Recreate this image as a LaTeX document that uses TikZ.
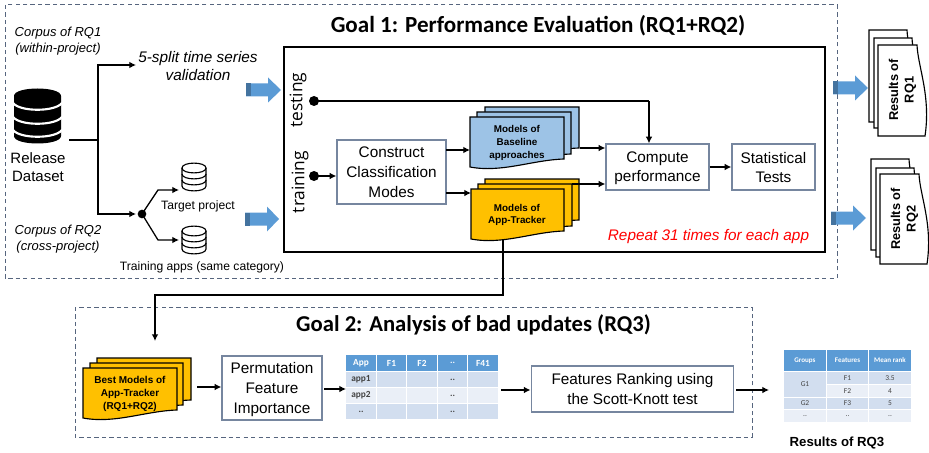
\documentclass[tikz,border=0pt]{standalone}
\usepackage{fontspec}
\setmainfont{Liberation Sans}
\newfontfamily\carl{Carlito}
\newfontfamily\opens{Open Sans}
\usetikzlibrary{arrows.meta,calc}
\definecolor{boxline}{HTML}{76869F}
\definecolor{dashline}{HTML}{56657E}
\definecolor{bigblue}{HTML}{5B9BD5}
\definecolor{bigdark}{HTML}{44739F}
\definecolor{docblue}{HTML}{9DC3E6}
\definecolor{docorange}{HTML}{FFC000}
\definecolor{thead}{HTML}{5B9BD5}
\definecolor{tdark}{HTML}{D2DEEF}
\definecolor{tlight}{HTML}{EAEFF7}
\definecolor{ttext}{HTML}{444444}
\newcommand{\fs}[1]{\fontsize{#1pt}{1.2\dimexpr#1pt\relax}\selectfont}
\newcount\cellno
\tikzset{
  x=0.75pt,y=-0.75pt,
  goalframe/.style={draw=dashline,line width=0.75pt,dash pattern=on 3.2pt off 2.4pt},
  arr/.style={line width=0.95pt,-{Latex[length=5pt,width=5pt]}},
  plain/.style={line width=0.95pt},
  procbox/.style={draw=boxline,line width=0.95pt,fill=white,align=center,inner sep=0pt,font=\fs{11.5},text depth=0pt},
  lbl/.style={inner sep=0pt,align=center},
  sheet/.style={draw=black,line width=0.85pt},
  ghost/.style={inner sep=0pt,align=center,font=\bfseries\fs{7.4}},
  blackdot/.style={circle,fill=black,inner sep=0pt,minimum size=6.5pt},
}
% horizontal document sheet
\newcommand{\hsheet}[5]{\draw[sheet,fill=#5] (#1,#2) -- (#3,#2) -- (#3,#4) .. controls ({#3-32},{#4+1}) and ({#1+32},{#4+14}) .. (#1,{#4+8}) -- cycle;}
% vertical document sheet
\newcommand{\vsheet}[4]{\draw[sheet,fill=white] (#1,#2) -- (#3,#2) .. controls ({#3+1},{#2+22}) and ({#3+14},{#4-40}) .. ({#3+8},#4) -- (#1,#4) -- cycle;}
\newcommand{\bigarrow}[4]{% x0,x1,yc,xhead
  \fill[bigblue] (#1,{#3-6.5}) -- (#4,{#3-6.5}) -- (#4,{#3-12.5}) -- (#2,#3) -- (#4,{#3+12.5}) -- (#4,{#3+6.5}) -- (#1,{#3+6.5}) -- cycle;
  \fill[bigdark] (#1,{#3-6.5}) rectangle ({#1+5},{#3+6.5});}
\newcommand{\smalldb}[1]{%
  \begin{scope}[shift={(182,#1)}]
    \draw[line width=0.85pt,fill=white] (0,5) .. controls (0,-1.5) and (24,-1.5) .. (24,5) -- (24,23) .. controls (24,29.5) and (0,29.5) .. (0,23) -- cycle;
    \draw[line width=0.85pt] (0,5) .. controls (0,11.5) and (24,11.5) .. (24,5);
    \draw[line width=0.85pt] (0,11) .. controls (0,17.5) and (24,17.5) .. (24,11);
    \draw[line width=0.85pt] (0,17) .. controls (0,23.5) and (24,23.5) .. (24,17);
  \end{scope}}
\newcommand{\cellfont}{}
\newcommand{\cell}[7]{% x0,y0,x1,y1,fill,textcolor,text
  \global\advance\cellno by 1
  \fill[#5] (#1,#2) rectangle (#3,#4);
  \node[inner sep=0pt,text=#6,font=\cellfont] (cell\the\cellno) at ({(#1+#3)/2},{(#2+#4)/2}) {#7};}
\begin{document}
\begin{tikzpicture}
\useasboundingbox (0,0) rectangle (929,453);
\fill[white] (0,0) rectangle (929,453);
% frames
\draw[goalframe] (5,5) rectangle (837,278);
\draw[goalframe] (75,307) rectangle (752,437);
\draw[line width=1.1pt] (284,47) rectangle (825,252);
\node[lbl,font=\carl\bfseries\fs{17.3}] (goalone) at (538,26) {Goal 1: Performance Evaluation (RQ1+RQ2)};
\node[lbl,font=\carl\bfseries\fs{17}] (goaltwo) at (473.5,325) {Goal 2: Analysis of bad updates (RQ3)};
% big dataset icon
\fill[black] (14,96) .. controls (14,86) and (61,86) .. (61,96) -- (61,136) .. controls (61,146) and (14,146) .. (14,136) -- cycle;
\foreach \e in {103,117,130}
  \draw[white,line width=1.6pt] (13,\e) .. controls (20,{\e+9}) and (55,{\e+9}) .. (62,\e);
\node[lbl,font=\fs{11.25},text depth=0pt] (release) at (38,167) {Release\\[0.5pt]Dataset};
\coordinate (relport) at (69,140);
\coordinate (trunk) at (98,140);
\node[lbl,font=\itshape\fs{9.75}] (corpusone) at (58,41) {Corpus of RQ1\\(within-project)};
\node[lbl,font=\itshape\fs{9.75}] (corpustwo) at (58,239) {Corpus of RQ2\\(cross-project)};
\node[lbl,font=\itshape\fs{11.5}] (split) at (198,66) {5-split time series\\validation};
\node[blackdot] (fork) at (142,214) {};
\smalldb{163}
\smalldb{226}
\coordinate (splitin) at (136,65);
\coordinate (forkin) at (136,214);
\coordinate (targetdb) at (179,190);
\coordinate (traindb) at (179,240);
\node[lbl,font=\fs{9.1}] (target) at (198,206) {Target project};
\node[lbl,font=\fs{9.1}] (trainapps) at (202,267) {Training apps (same category)};
\draw[plain] (relport) -- (trunk);
\draw[arr] (trunk) |- (splitin);
\draw[arr] (trunk) |- (forkin);
\draw[arr] (fork.center) -- (158,190) -- (targetdb);
\draw[arr] (fork.center) -- (158,240) -- (traindb);
% big arrows
\bigarrow{246}{281}{90}{268}
\bigarrow{245}{279}{219}{267}
\bigarrow{833}{868}{88}{855}
\bigarrow{831}{866}{218}{853}
% inner labels
\node[lbl,rotate=90,font=\opens\fs{13}] (testing) at (298,100) {testing};
\node[lbl,rotate=90,font=\opens\fs{13}] (training) at (300,182) {training};
\node[blackdot,minimum size=7.5pt] (testdot) at (314,101) {};
\node[blackdot,minimum size=7.5pt] (traindot) at (314,176) {};
\node[procbox,minimum width=81.75pt,minimum height=48pt] (construct) at (391.5,172) {Construct\\[1pt]Classification\\[1pt]Modes};
% baseline docs
\hsheet{485}{107}{579}{148}{docblue}
\hsheet{477}{112}{571}{154}{docblue}
\hsheet{470}{117}{564}{159}{docblue}
\node[ghost] (baseline) at (517,143) {Models of\\[0.6pt]Baseline\\[0.6pt]approaches};
% app-tracker docs
\hsheet{485}{179}{579}{220}{docorange}
\hsheet{478}{184}{572}{226}{docorange}
\hsheet{471}{189}{564}{231}{docorange}
\node[ghost] (tracker) at (517,215) {Models of\\[0.6pt]App-Tracker};
\node[procbox,minimum width=77.25pt,minimum height=34.5pt] (compute) at (657.5,167) {Compute\\[0.5pt]performance};
\node[procbox,minimum width=62.25pt,minimum height=34.5pt] (stat) at (773.5,167) {Statistical\\[0.5pt]Tests};
\node[lbl,text=red,font=\itshape\fs{11.5}] (repeat) at (708.5,237) {Repeat 31 times for each app};
\coordinate (ccone) at (446,150);
\coordinate (cctwo) at (446,193);
\coordinate (blin) at (470,150);
\coordinate (trin) at (471,193);
\coordinate (blout) at (580,148);
\coordinate (trout) at (572,184);
\coordinate (turn) at (649,101);
\draw[plain] (testdot.center) -- (turn);
\draw[arr] (turn) -- (turn |- compute.north);
\draw[arr] (traindot.center) -- (traindot.center -| construct.west);
\draw[arr] (ccone) -- (blin);
\draw[arr] (cctwo) -- (trin);
\draw[arr] (blout) -- (blout -| compute.west);
\draw[arr] (trout) -- (trout -| compute.west);
\draw[arr] (compute.east) -- (stat.west);
% results RQ1
\vsheet{869}{30}{907}{122}
\vsheet{874}{38}{912}{128}
\vsheet{878}{45}{917}{136}
\node[lbl,rotate=90,font=\bfseries\fs{9.6}] (resone) at (902.5,90) {Results of\\RQ1};
% results RQ2
\vsheet{871}{159}{909}{250}
\vsheet{876}{168}{914}{257}
\vsheet{880}{174}{919}{264}
\node[lbl,rotate=90,font=\bfseries\fs{9.6}] (restwo) at (904.5,219) {Results of\\RQ2};
% best models
\hsheet{97}{358}{191}{400}{docorange}
\hsheet{90}{363}{183}{405}{docorange}
\hsheet{83}{368}{177}{410}{docorange}
\node[ghost,font=\bfseries\fs{7.5}] (best) at (130,394) {Best Models of\\[0.6pt]App-Tracker\\[0.6pt](RQ1+RQ2)};
\coordinate (trdown) at (503,240);
\coordinate (bestin) at (155,341);
\draw[arr,line width=1.05pt] (trdown) -- (503,295) -| (bestin);
\node[procbox,minimum width=75pt,minimum height=48pt] (perm) at (272,388) {Permutation\\[1pt]Feature\\[1pt]Importance};
\coordinate (bestout) at (197,387);
\draw[arr] (bestout) -- (bestout -| perm.west);
% features table
\renewcommand{\cellfont}{\carl\bfseries\fs{7}}
\cell{346}{355}{376}{371}{thead}{white}{App}
\cell{377}{355}{406}{371}{thead}{white}{F1}
\cell{407}{355}{437}{371}{thead}{white}{F2}
\cell{438}{355}{467}{371}{thead}{white}{..}
\cell{468}{355}{498}{371}{thead}{white}{F41}
\cell{346}{372}{376}{387}{tdark}{ttext}{app1}
\cell{377}{372}{406}{387}{tdark}{ttext}{}
\cell{407}{372}{437}{387}{tdark}{ttext}{}
\cell{438}{372}{467}{387}{tdark}{ttext}{..}
\cell{468}{372}{498}{387}{tdark}{ttext}{}
\cell{346}{388}{376}{403}{tlight}{ttext}{app2}
\cell{377}{388}{406}{403}{tlight}{ttext}{}
\cell{407}{388}{437}{403}{tlight}{ttext}{}
\cell{438}{388}{467}{403}{tlight}{ttext}{..}
\cell{468}{388}{498}{403}{tlight}{ttext}{}
\cell{346}{404}{376}{419}{tdark}{ttext}{..}
\cell{377}{404}{406}{419}{tdark}{ttext}{}
\cell{407}{404}{437}{419}{tdark}{ttext}{}
\cell{438}{404}{467}{419}{tdark}{ttext}{..}
\cell{468}{404}{498}{419}{tdark}{ttext}{}
\coordinate (permout) at (324,389);
\coordinate (tabin) at (346,389);
\draw[arr] (permout) -- (tabin);
\node[procbox,minimum width=152pt,minimum height=34.5pt] (rank) at (632.5,389) {Features Ranking using\\[1pt]the Scott-Knott test};
\coordinate (tabout) at (501,390);
\draw[arr] (tabout) -- (tabout -| rank.west);
\coordinate (rankout) at (736,390);
\coordinate (resin) at (769,390);
\draw[arr] (rankout) -- (resin);
% results table
\renewcommand{\cellfont}{\carl\bfseries\fs{5.3}}
\cell{784}{350}{826}{371}{thead}{white}{Groups}
\cell{827}{350}{868}{371}{thead}{white}{Features}
\cell{869}{350}{911}{371}{thead}{white}{Mean rank}
\renewcommand{\cellfont}{\carl\fs{5.6}}
\cell{784}{372}{826}{397}{tdark}{ttext}{G1}
\cell{827}{372}{868}{384}{tdark}{ttext}{F1}
\cell{869}{372}{911}{384}{tdark}{ttext}{3.5}
\cell{827}{385}{868}{397}{tlight}{ttext}{F2}
\cell{869}{385}{911}{397}{tlight}{ttext}{4}
\cell{784}{398}{826}{409}{tdark}{ttext}{G2}
\cell{827}{398}{868}{409}{tdark}{ttext}{F3}
\cell{869}{398}{911}{409}{tdark}{ttext}{5}
\cell{784}{410}{826}{422}{tlight}{ttext}{..}
\cell{827}{410}{868}{422}{tlight}{ttext}{..}
\cell{869}{410}{911}{422}{tlight}{ttext}{..}
\node[lbl,font=\bfseries\fs{9.9}] (resthree) at (837,443) {Results of RQ3};
\end{tikzpicture}
\end{document}
